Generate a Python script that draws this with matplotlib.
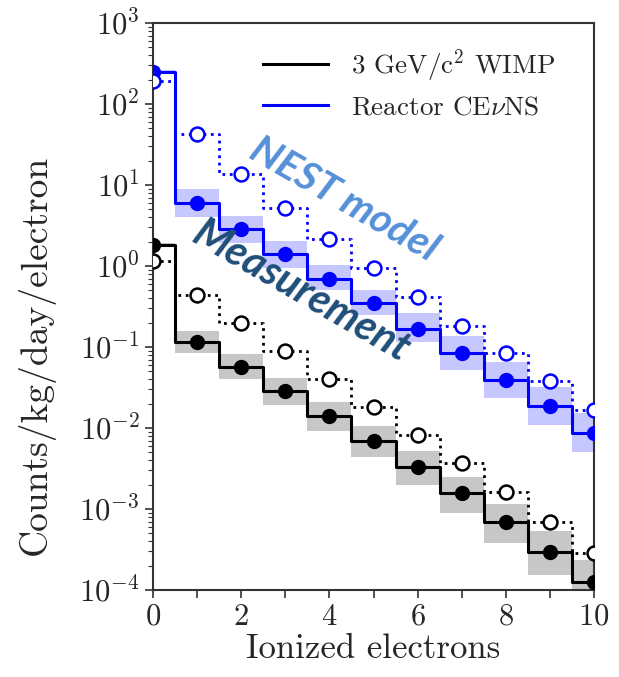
import numpy as np
import matplotlib
matplotlib.use("Agg")
import matplotlib.pyplot as plt
from matplotlib.ticker import LogLocator, MultipleLocator, NullFormatter

plt.rcParams['font.family'] = 'serif'
plt.rcParams['font.serif'] = ['cmr10']
plt.rcParams['mathtext.fontset'] = 'cm'
plt.rcParams['axes.formatter.use_mathtext'] = True
plt.rcParams['text.color'] = '#262626'
plt.rcParams['xtick.labelcolor'] = '#262626'
plt.rcParams['ytick.labelcolor'] = '#262626'
plt.rcParams['axes.labelcolor'] = '#262626'

# ---- data ----
electrons = np.arange(0, 11)

cevns_meas = [250, 6.0, 2.9, 1.4, 0.70, 0.345, 0.168, 0.084, 0.039, 0.0187, 0.0087]
cevns_upper = [265, 8.8, 4.2, 2.05, 1.03, 0.51, 0.26, 0.135, 0.065, 0.032, 0.0153]
cevns_lower = [235, 4.0, 1.95, 0.95, 0.50, 0.25, 0.115, 0.052, 0.0234, 0.0109, 0.0050]
cevns_nest = [190, 42.6, 13.8, 5.2, 2.15, 0.94, 0.41, 0.18, 0.084, 0.038, 0.0166]

wimp_meas = [1.8, 0.115, 0.057, 0.0286, 0.014, 0.0069, 0.0033, 0.00158, 0.00069, 0.000295, 0.000126]
wimp_upper = [1.9, 0.158, 0.082, 0.042, 0.021, 0.0106, 0.0052, 0.0025, 0.00115, 0.00054, 0.000234]
wimp_lower = [1.7, 0.084, 0.040, 0.019, 0.0092, 0.0044, 0.0020, 0.00089, 0.00038, 0.000155, 0.00006]
wimp_nest = [1.15, 0.44, 0.198, 0.089, 0.040, 0.018, 0.0082, 0.0037, 0.00162, 0.00069, 0.00029]

labels = [r"3 GeV/c$^2$ WIMP", r"Reactor CE$\nu$NS"]
colors = ["black", "blue"]

fig = plt.figure(figsize=(6.19, 6.77), dpi=100)
ax = fig.add_axes([153/619, 1-590/677, 441/619, 567/677])

series = [
    (wimp_meas, wimp_lower, wimp_upper, wimp_nest, colors[0], labels[0], 0.22),
    (cevns_meas, cevns_lower, cevns_upper, cevns_nest, colors[1], labels[1], 0.22),
]
for meas, lo, hi, nest, c, lab, a in series:
    ax.fill_between(electrons, lo, hi, step='mid', color=c, alpha=a, lw=0, zorder=1)
    ax.step(electrons, meas, where='mid', color=c, lw=2.2, zorder=3, label=lab)
    ax.plot(electrons, meas, 'o', color=c, ms=10, zorder=4)
    ax.step(electrons, nest, where='mid', color=c, lw=2.0, ls=':', zorder=2)
    ax.plot(electrons, nest, 'o', mfc='white', mec=c, mew=1.8, ms=10, zorder=4)

ax.set_yscale('log')
ax.set_xlim(0, 10)
ax.set_ylim(1e-4, 1e3)
ax.xaxis.set_major_locator(MultipleLocator(2))
ax.xaxis.set_minor_locator(MultipleLocator(1))
ax.yaxis.set_major_locator(LogLocator(base=10, numticks=20))
ax.yaxis.set_minor_locator(LogLocator(base=10, subs=np.arange(2, 10), numticks=20))
ax.yaxis.set_minor_formatter(NullFormatter())
ax.tick_params(axis='both', which='major', direction='out', length=6, width=1.2,
               labelsize=22, color='#333333')
ax.tick_params(axis='x', which='minor', direction='out', length=6, width=1.2, color='#333333')
ax.tick_params(axis='y', which='minor', direction='out', length=3.5, width=0.8, color='#333333')
for s in ax.spines.values():
    s.set_linewidth(1.5)
    s.set_color('#333333')

ax.set_xlabel("Ionized electrons", fontsize=25, labelpad=2)
ax.set_ylabel("Counts/kg/day/electron", fontsize=27)
ax.yaxis.set_label_coords(-0.222, 0.414)

ax.legend(loc='upper left', bbox_to_anchor=(0.249, 0.958), frameon=False,
          fontsize=19.5, handlelength=2.4, handletextpad=0.85, borderpad=0,
          borderaxespad=0, labelspacing=0.45)

ax.text(0.433, 0.688, "NEST model", transform=ax.transAxes, rotation=-30,
        ha='center', va='center', fontsize=29.5, color='#5590D8',
        family='Lato', weight='bold', style='italic', zorder=6)
ax.text(0.335, 0.527, "Measurement", transform=ax.transAxes, rotation=-30,
        ha='center', va='center', fontsize=30, color='#1F4E79',
        family='Lato', weight='bold', style='italic', zorder=6)

fig.savefig("out.png", dpi=100)
